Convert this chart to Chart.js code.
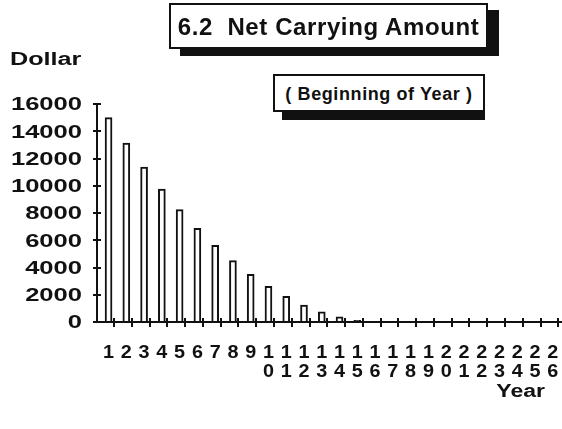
<!DOCTYPE html>
<html>
<head>
<meta charset="utf-8">
<title>6.2 Net Carrying Amount</title>
<script src="https://cdn.jsdelivr.net/npm/chart.js@4.4.1/dist/chart.umd.min.js"></script>
<style>
  html, body { margin: 0; padding: 0; background: #fff; width: 562px; height: 429px; overflow: hidden; }
  #wrap { position: relative; width: 562px; height: 429px; }
  #chart { position: absolute; left: 0; top: 0; }
  .box {
    position: absolute; box-sizing: border-box; border: 2px solid #111; background: #fff; color: #111;
    font-family: "Liberation Sans", Arial, Helvetica, sans-serif; font-weight: bold;
    text-align: center; white-space: pre;
  }
  #title { left: 169px; top: 3px; width: 319px; height: 46px; font-size: 24px; letter-spacing: 0.6px;
           line-height: 40px; padding-top: 2px; box-shadow: 11px 7px 0 #111; }
  #subtitle { left: 273px; top: 74px; width: 212px; height: 38px; font-size: 18px; letter-spacing: 0.6px;
              line-height: 34px; padding-top: 1px; }
  #subshadow { position: absolute; left: 282px; top: 112px; width: 203px; height: 8px; background: #111; }
</style>
</head>
<body>
<div id="wrap">
  <canvas id="chart" width="562" height="429"></canvas>
  <div id="subshadow"></div>
  <div class="box" id="title">6.2  Net Carrying Amount</div>
  <div class="box" id="subtitle">( Beginning of Year )</div>
</div>
<script>
// Years of the asset's life (category labels)
const years = ['1','2','3','4','5','6','7','8','9','10','11','12','13',
               '14','15','16','17','18','19','20','21','22','23','24','25','26'];
// Net carrying amount at the beginning of each year (dollars)
const netCarrying = [15000, 13125, 11375, 9750, 8250, 6875, 5625, 4500, 3500, 2625,
                     1875, 1250, 750, 375, 125, 0, 0, 0, 0, 0, 0, 0, 0, 0, 0, 0];
// Value axis ticks
const dollarTicks = [0, 2000, 4000, 6000, 8000, 10000, 12000, 14000, 16000];
const yAxisTitle = 'Dollar';
const xAxisTitle = 'Year';

const FONT = '"Liberation Sans", Arial, Helvetica, sans-serif';

function stretchedText(ctx, text, x, y, sx, align) {
  ctx.save();
  ctx.translate(x, y);
  ctx.scale(sx, 1);
  ctx.textAlign = align;
  ctx.textBaseline = 'alphabetic';
  ctx.fillText(text, 0, 0);
  ctx.restore();
}

// Axis lines, crossing tick marks and the labels
const axesPlugin = {
  id: 'axesPlugin',
  afterDatasetsDraw(chart) {
    const { ctx, chartArea: a, scales: { x, y } } = chart;
    const y0 = y.getPixelForValue(0);
    const yTop = y.getPixelForValue(dollarTicks[dollarTicks.length - 1]);
    ctx.save();
    ctx.strokeStyle = '#111';
    ctx.lineWidth = 2;
    ctx.beginPath();
    ctx.moveTo(a.left, yTop); ctx.lineTo(a.left, y0);
    ctx.moveTo(a.left - 1, y0); ctx.lineTo(a.right, y0);
    dollarTicks.forEach(v => {
      const py = Math.round(y.getPixelForValue(v));
      ctx.moveTo(a.left - 4, py); ctx.lineTo(a.left + 4, py);
    });
    years.forEach((_, i) => {
      const px = Math.round(x.getPixelForValue(i + 1.31));
      ctx.moveTo(px, y0 - 4); ctx.lineTo(px, y0 + 5);
    });
    ctx.stroke();

    ctx.fillStyle = '#111';
    ctx.font = 'bold 18px ' + FONT;
    // value axis labels
    dollarTicks.forEach(v => {
      const py = y.getPixelForValue(v);
      stretchedText(ctx, String(v), 82, py + 6.4, 1.42, 'right');
    });
    stretchedText(ctx, yAxisTitle, 10, 65, 1.4, 'left');
    // year labels, digits stacked
    years.forEach((lab, i) => {
      const px = x.getPixelForValue(i + 1);
      stretchedText(ctx, lab[0], px, 358, 1.1, 'center');
      if (lab.length > 1) stretchedText(ctx, lab[1], px, 376.5, 1.1, 'center');
    });
    stretchedText(ctx, xAxisTitle, 545, 396.5, 1.28, 'right');
    ctx.restore();
  }
};

new Chart(document.getElementById('chart'), {
  type: 'bar',
  data: {
    datasets: [{
      label: 'Net Carrying Amount',
      data: years.map((_, i) => ({ x: i + 1, y: netCarrying[i] })),
      backgroundColor: '#fff',
      borderColor: '#111',
      borderWidth: 2,
      borderSkipped: 'start',
      barThickness: 7
    }]
  },
  options: {
    responsive: false,
    devicePixelRatio: 1,
    animation: false,
    layout: { padding: { left: 97, right: 0, top: 104, bottom: 107 } },
    plugins: { legend: { display: false }, tooltip: { enabled: false }, title: { display: false } },
    scales: {
      x: { type: 'linear', min: 0.35, max: 26.52, offset: false, display: false },
      y: { min: 0, max: 16000, display: false }
    }
  },
  plugins: [axesPlugin]
});
</script>
</body>
</html>
